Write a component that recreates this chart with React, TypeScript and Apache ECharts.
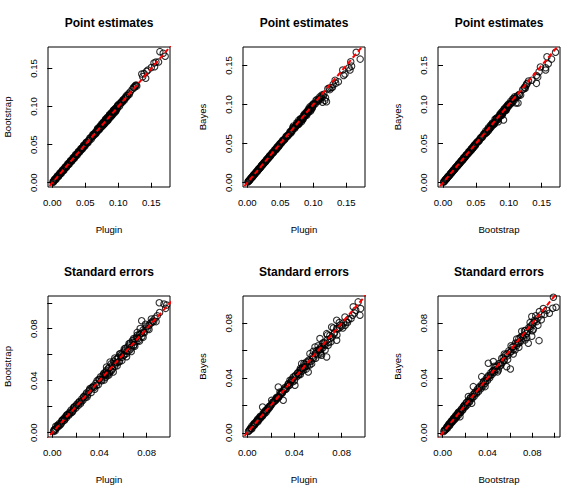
import React, { useEffect, useRef } from "react";
import * as echarts from "echarts";

// ---- data: [x, y] pairs ----
const pointPluginBoot: number[][] = [
  [0.001,0.0012],[0.002,0.0018],[0.003,0.0032],[0.004,0.0038],[0.005,0.0052],[0.006,0.0061],[0.007,0.0068],[0.008,0.0083],[0.009,0.0088],[0.010,0.0103],
  [0.011,0.0109],[0.012,0.0122],[0.013,0.0128],[0.014,0.0143],[0.015,0.0149],[0.016,0.0162],[0.017,0.0168],[0.018,0.0184],[0.019,0.0188],[0.020,0.0204],
  [0.021,0.0207],[0.022,0.0224],[0.023,0.0228],[0.024,0.0243],[0.025,0.0247],[0.026,0.0264],[0.027,0.0268],[0.028,0.0284],[0.029,0.0287],[0.030,0.0304],
  [0.031,0.0306],[0.032,0.0323],[0.033,0.0327],[0.034,0.0345],[0.035,0.0346],[0.036,0.0366],[0.038,0.0377],[0.039,0.0396],[0.040,0.0398],[0.042,0.0425],
  [0.043,0.0426],[0.044,0.0447],[0.045,0.0446],[0.046,0.0466],[0.047,0.0465],[0.048,0.0487],[0.049,0.0486],[0.050,0.0508],
  [0.052,0.0528],[0.053,0.0524],[0.055,0.0558],[0.056,0.0553],[0.058,0.0586],[0.060,0.0608],[0.061,0.0604],[0.062,0.0628],[0.063,0.0622],[0.064,0.0648],
  [0.066,0.0668],[0.067,0.0664],[0.068,0.0693],[0.070,0.0708],[0.071,0.0703],[0.072,0.0732],[0.073,0.0724],[0.074,0.0752],[0.075,0.0745],[0.076,0.0772],
  [0.077,0.0761],[0.078,0.0794],[0.079,0.0782],[0.080,0.0812],[0.081,0.0803],[0.082,0.0832],[0.083,0.0822],[0.084,0.0854],[0.085,0.0842],[0.086,0.0872],
  [0.087,0.0863],[0.088,0.0893],[0.089,0.0882],[0.090,0.0914],[0.091,0.0902],[0.092,0.0933],[0.093,0.0921],[0.094,0.0955],[0.095,0.0942],[0.096,0.0973],
  [0.097,0.0962],[0.098,0.0995],[0.099,0.0981],
  [0.100,0.1015],[0.101,0.1032],[0.102,0.1008],[0.104,0.1052],[0.105,0.1064],[0.106,0.1055],[0.108,0.1092],[0.109,0.1082],[0.111,0.1125],[0.112,0.1118],
  [0.114,0.1142],[0.116,0.1172],[0.118,0.1192],[0.121,0.1225],[0.123,0.1248],[0.125,0.1262],[0.127,0.1281],[0.128,0.1268],[0.1355,0.1426],[0.137,0.1392],
  [0.139,0.1432],[0.1415,0.1370],[0.143,0.1462],[0.145,0.1480],[0.150,0.1512],[0.154,0.1570],[0.155,0.1522],[0.157,0.1583],[0.161,0.1585],[0.163,0.1720],
  [0.168,0.1700],[0.171,0.1660],
  [0.0015,0.0005],[0.0035,0.0045],[0.0055,0.0042],[0.0075,0.0088],[0.0095,0.0082],[0.0115,0.0128],[0.0135,0.0122],[0.0155,0.0168],[0.0175,0.0162],[0.0195,0.0208],
  [0.0215,0.0202],[0.0235,0.0248],[0.0255,0.0243],[0.0275,0.0289],[0.0295,0.0283],[0.0315,0.0329],[0.0335,0.0322],[0.0355,0.0369],[0.0375,0.0362],[0.0395,0.0409],
  [0.0415,0.0402],[0.0435,0.0449],[0.0455,0.0442],[0.0475,0.0491],[0.0495,0.0481],[0.0515,0.0532],[0.054,0.0525],[0.057,0.0587],[0.059,0.0575],[0.0615,0.0632],
  [0.065,0.0638],[0.0685,0.0702],[0.0695,0.0682],[0.0725,0.0745],[0.0755,0.0738],[0.0775,0.0798],[0.0785,0.0768],[0.0805,0.0828],[0.0815,0.0792],[0.0835,0.0858],
  [0.0845,0.0822],[0.0865,0.0888],[0.0875,0.0852],[0.0895,0.0918],[0.0905,0.0885],[0.0925,0.0948],[0.0935,0.0912],[0.0955,0.0975],[0.0965,0.0948],[0.0985,0.1005],
  [0.1035,0.1038],[0.107,0.1085],[0.110,0.1105],[0.113,0.1148],[0.1165,0.1158],[0.124,0.1245],[0.126,0.1275],
  [0.066,0.0645],[0.069,0.0715],[0.072,0.0705],[0.075,0.0775],[0.078,0.0765],[0.081,0.0835],[0.084,0.0818],[0.087,0.0895],[0.090,0.0878],[0.093,0.0955],
  [0.096,0.0935],[0.099,0.1012],
];

const pointPluginBayes: number[][] = [
  [0.001,0.0009],[0.002,0.0021],[0.003,0.0028],[0.004,0.0041],[0.005,0.0048],[0.006,0.0062],[0.007,0.0067],[0.008,0.0081],[0.009,0.0087],[0.010,0.0101],
  [0.011,0.0107],[0.012,0.0121],[0.013,0.0126],[0.014,0.0141],[0.015,0.0146],[0.016,0.0161],[0.017,0.0166],[0.018,0.0182],[0.019,0.0186],[0.020,0.0201],
  [0.021,0.0205],[0.022,0.0222],[0.023,0.0226],[0.024,0.0241],[0.025,0.0244],[0.026,0.0262],[0.027,0.0264],[0.028,0.0282],[0.029,0.0284],[0.030,0.0301],
  [0.031,0.0302],[0.032,0.0323],[0.033,0.0322],[0.034,0.0343],[0.035,0.0342],[0.036,0.0362],[0.038,0.0372],[0.039,0.0393],[0.040,0.0392],[0.042,0.0421],
  [0.043,0.0418],[0.044,0.0443],[0.045,0.0438],[0.046,0.0463],[0.047,0.0458],[0.048,0.0482],[0.049,0.0478],[0.050,0.0502],
  [0.052,0.052],[0.054,0.053],[0.055,0.055],[0.057,0.056],[0.059,0.058],[0.060,0.060],[0.062,0.061],[0.063,0.062],[0.065,0.064],[0.066,0.066],
  [0.068,0.067],[0.069,0.069],[0.070,0.0725],[0.072,0.071],[0.074,0.073],[0.075,0.074],[0.076,0.076],[0.077,0.075],[0.078,0.080],[0.079,0.077],
  [0.080,0.079],[0.081,0.080],[0.082,0.078],[0.083,0.082],[0.084,0.083],[0.085,0.086],[0.086,0.084],[0.087,0.088],[0.088,0.086],[0.089,0.089],
  [0.090,0.088],[0.091,0.091],[0.092,0.090],[0.093,0.093],[0.094,0.092],[0.095,0.097],[0.096,0.095],[0.097,0.094],[0.098,0.099],[0.099,0.097],
  [0.101,0.100],[0.103,0.101],[0.104,0.105],[0.106,0.104],[0.108,0.106],[0.109,0.107],[0.110,0.110],[0.111,0.108],[0.113,0.112],[0.115,0.111],
  [0.116,0.113],[0.1175,0.105],[0.114,0.103],[0.120,0.1035],[0.124,0.121],[0.125,0.119],[0.127,0.1215],[0.129,0.122],[0.133,0.131],[0.134,0.127],
  [0.138,0.129],[0.1445,0.144],[0.146,0.137],[0.148,0.139],[0.154,0.147],[0.1556,0.1441],[0.1567,0.1547],[0.158,0.149],[0.165,0.1667],[0.171,0.158],
  [0.0015,0.0016],[0.0035,0.0032],[0.0055,0.0058],[0.0075,0.0071],[0.0095,0.0098],[0.0115,0.0111],[0.0135,0.0138],[0.0155,0.0151],[0.0175,0.0178],[0.0195,0.0190],
  [0.0215,0.0219],[0.0235,0.0230],[0.0255,0.0259],[0.0275,0.0269],[0.0295,0.0299],[0.0315,0.0308],[0.0335,0.0339],[0.0355,0.0348],[0.0375,0.0379],[0.0395,0.0386],
  [0.0415,0.0418],[0.0435,0.0426],[0.0455,0.0458],[0.0475,0.0465],[0.0495,0.0498],[0.0515,0.0505],[0.0535,0.0538],[0.0565,0.0552],[0.0585,0.0588],[0.0615,0.0598],
  [0.0645,0.0648],[0.0675,0.0655],[0.0705,0.0698],[0.0735,0.0722],[0.0765,0.0742],[0.0785,0.0768],[0.0805,0.0815],[0.0825,0.0808],[0.0845,0.0818],[0.0865,0.0858],
  [0.0885,0.0872],[0.0905,0.0915],[0.0925,0.0898],[0.0945,0.0938],[0.0965,0.0962],[0.0985,0.0955],[0.1005,0.1012],[0.1055,0.1065],[0.1085,0.1048],[0.112,0.1095],
  [0.1185,0.1085],[0.122,0.120],[0.130,0.1255],
  [0.066,0.0635],[0.069,0.0705],[0.072,0.0695],[0.075,0.0765],[0.078,0.0748],[0.081,0.0818],[0.084,0.0805],[0.087,0.0865],[0.090,0.0862],[0.093,0.0945],
  [0.096,0.0918],[0.099,0.0995],
];

const pointBootBayes: number[][] = [
  [0.001,0.0008],[0.002,0.0020],[0.003,0.0027],[0.004,0.0040],[0.005,0.0047],[0.006,0.0061],[0.007,0.0066],[0.008,0.0080],[0.009,0.0086],[0.010,0.0100],
  [0.011,0.0106],[0.012,0.0120],[0.013,0.0125],[0.014,0.0140],[0.015,0.0145],[0.016,0.0160],[0.017,0.0164],[0.018,0.0181],[0.019,0.0185],[0.020,0.0200],
  [0.021,0.0203],[0.022,0.0221],[0.023,0.0224],[0.024,0.0240],[0.025,0.0242],[0.026,0.0261],[0.027,0.0262],[0.028,0.0281],[0.029,0.0282],[0.030,0.0300],
  [0.031,0.0300],[0.032,0.0322],[0.033,0.0320],[0.034,0.0342],[0.035,0.0340],[0.036,0.0361],[0.038,0.0370],[0.039,0.0392],[0.040,0.0390],[0.042,0.0420],
  [0.043,0.0416],[0.044,0.0442],[0.045,0.0436],[0.046,0.0462],[0.047,0.0456],[0.048,0.0481],[0.049,0.0476],[0.050,0.0501],
  [0.051,0.051],[0.053,0.052],[0.055,0.054],[0.056,0.056],[0.058,0.057],[0.060,0.059],[0.061,0.061],[0.063,0.062],[0.064,0.063],[0.065,0.066],
  [0.067,0.065],[0.068,0.068],[0.069,0.0665],[0.071,0.070],[0.072,0.073],[0.074,0.072],[0.075,0.075],[0.076,0.074],[0.078,0.077],[0.079,0.081],
  [0.080,0.078],[0.081,0.080],[0.082,0.083],[0.084,0.078],[0.085,0.084],[0.086,0.087],[0.087,0.085],[0.088,0.089],[0.089,0.087],[0.090,0.091],
  [0.091,0.089],[0.092,0.0802],[0.093,0.092],[0.094,0.095],[0.095,0.093],[0.096,0.097],[0.097,0.095],[0.098,0.099],[0.099,0.097],
  [0.100,0.101],[0.102,0.100],[0.103,0.104],[0.105,0.103],[0.106,0.107],[0.108,0.105],[0.109,0.110],[0.110,0.108],[0.111,0.102],[0.113,0.111],
  [0.114,0.102],[0.116,0.113],[0.118,0.112],[0.123,0.120],[0.124,0.122],[0.125,0.1207],[0.126,0.124],[0.127,0.126],[0.130,0.130],[0.135,0.131],
  [0.142,0.127],[0.142,0.137],[0.144,0.135],[0.146,0.142],[0.148,0.148],[0.156,0.144],[0.156,0.147],[0.158,0.161],[0.160,0.152],[0.165,0.158],
  [0.171,0.1667],
  [0.0015,0.0012],[0.0035,0.0039],[0.0055,0.0051],[0.0075,0.0079],[0.0095,0.0091],[0.0115,0.0119],[0.0135,0.0131],[0.0155,0.0159],[0.0175,0.0170],[0.0195,0.0199],
  [0.0215,0.0210],[0.0235,0.0239],[0.0255,0.0249],[0.0275,0.0279],[0.0295,0.0288],[0.0315,0.0319],[0.0335,0.0327],[0.0355,0.0358],[0.0375,0.0366],[0.0395,0.0398],
  [0.0415,0.0405],[0.0435,0.0438],[0.0455,0.0444],[0.0475,0.0478],[0.0495,0.0484],[0.0525,0.0528],[0.0545,0.0532],[0.0575,0.0578],[0.0595,0.0582],[0.0625,0.0628],
  [0.0655,0.0642],[0.0705,0.0688],[0.0735,0.0738],[0.0775,0.0752],[0.0805,0.0808],[0.0835,0.0818],[0.0865,0.0852],[0.0885,0.0878],[0.0905,0.0885],[0.0925,0.0928],
  [0.0945,0.0922],[0.0965,0.0955],[0.0985,0.0978],[0.1015,0.1005],[0.1045,0.1022],[0.1075,0.1078],[0.112,0.1095],[0.1155,0.1118],[0.121,0.119],[0.128,0.127],
  [0.066,0.0638],[0.069,0.0702],[0.072,0.0698],[0.075,0.0762],[0.078,0.0752],[0.081,0.0822],[0.084,0.0808],[0.087,0.0872],[0.090,0.0865],[0.093,0.0942],
  [0.096,0.0925],[0.099,0.0992],
];

const sePluginBoot: number[][] = [
  [0.001,0.001],[0.002,0.0025],[0.003,0.003],[0.003,0.005],[0.004,0.004],[0.005,0.006],[0.005,0.0045],[0.006,0.007],[0.007,0.0065],[0.008,0.009],
  [0.008,0.0075],[0.009,0.010],[0.010,0.0095],[0.010,0.011],[0.011,0.012],[0.012,0.0115],[0.012,0.013],[0.013,0.014],[0.014,0.0135],[0.015,0.016],
  [0.015,0.0145],[0.016,0.0175],[0.017,0.016],[0.018,0.019],[0.018,0.0175],[0.019,0.020],[0.020,0.019],[0.021,0.022],[0.022,0.021],[0.023,0.024],
  [0.024,0.0225],[0.025,0.026],[0.026,0.025],[0.027,0.028],[0.028,0.027],[0.029,0.0305],[0.030,0.029],[0.031,0.032],[0.032,0.034],[0.033,0.031],
  [0.034,0.035],[0.035,0.036],[0.036,0.0335],[0.037,0.038],[0.038,0.040],[0.039,0.037],[0.040,0.041],[0.041,0.043],[0.042,0.040],[0.043,0.044],
  [0.044,0.046],[0.045,0.0425],[0.045,0.045],[0.046,0.048],[0.047,0.0455],[0.048,0.050],[0.049,0.0475],[0.049,0.0544],[0.050,0.053],[0.051,0.049],
  [0.0517,0.0467],[0.052,0.055],[0.053,0.051],[0.054,0.0565],[0.055,0.054],[0.056,0.058],[0.057,0.055],[0.058,0.061],[0.059,0.058],[0.060,0.062],
  [0.061,0.060],[0.062,0.065],[0.063,0.061],[0.064,0.066],[0.065,0.063],[0.066,0.069],[0.067,0.066],[0.068,0.071],[0.069,0.067],[0.070,0.072],
  [0.071,0.070],[0.072,0.075],[0.073,0.071],[0.074,0.076],[0.0758,0.0862],[0.076,0.074],[0.077,0.079],[0.078,0.077],[0.080,0.082],[0.081,0.080],
  [0.083,0.084],[0.085,0.086],[0.087,0.088],[0.089,0.090],[0.0907,0.100],[0.0947,0.099],[0.0961,0.0957],[0.097,0.0982],
  [0.0015,0.002],[0.0025,0.0015],[0.0045,0.0055],[0.0065,0.0058],[0.0085,0.0095],[0.0105,0.0098],[0.0125,0.0138],[0.0145,0.0152],[0.0165,0.0158],[0.0185,0.0198],
  [0.0205,0.0212],[0.0225,0.0232],[0.0245,0.0238],[0.0265,0.0275],[0.0285,0.0292],[0.0295,0.0275],[0.0315,0.0328],[0.0335,0.0345],[0.0355,0.0348],[0.0375,0.0365],
  [0.0395,0.0412],[0.0415,0.0405],[0.0435,0.0452],[0.0445,0.0438],[0.0455,0.0468],[0.0465,0.0438],[0.0475,0.0492],[0.0485,0.0462],[0.0505,0.0515],[0.0525,0.0535],
  [0.0535,0.0528],[0.0555,0.0572],[0.0565,0.0545],[0.0585,0.0598],[0.0605,0.0595],[0.0615,0.0635],[0.0635,0.0628],[0.0655,0.0675],[0.0665,0.0645],[0.0685,0.0695],
  [0.0695,0.0678],[0.0715,0.0735],[0.0725,0.0725],[0.0745,0.0755],[0.0755,0.0765],[0.0775,0.0775],[0.0795,0.0805],[0.082,0.0825],[0.0845,0.0848],[0.086,0.0855],
  [0.044,0.0405],[0.046,0.0505],[0.048,0.0445],[0.050,0.0475],[0.053,0.0575],[0.055,0.0515],[0.057,0.0605],[0.059,0.0555],[0.061,0.0645],[0.063,0.0585],
  [0.065,0.0685],[0.067,0.0625],[0.069,0.0725],[0.070,0.0665],[0.072,0.0772],[0.074,0.0705],[0.0745,0.0802],[0.077,0.0735],[0.079,0.0835],[0.082,0.0795],
  [0.084,0.0875],[0.088,0.0855],[0.091,0.0925],
];

const sePluginBayes: number[][] = [
  [0.001,0.001],[0.002,0.002],[0.003,0.0035],[0.004,0.003],[0.004,0.005],[0.005,0.005],[0.006,0.0055],[0.006,0.007],[0.007,0.007],[0.008,0.0085],
  [0.009,0.008],[0.009,0.010],[0.010,0.010],[0.011,0.0105],[0.011,0.012],[0.012,0.012],[0.013,0.0125],[0.013,0.0188],[0.014,0.014],[0.015,0.0155],
  [0.016,0.015],[0.0164,0.0164],[0.017,0.0175],[0.018,0.018],[0.019,0.0185],[0.020,0.020],[0.0207,0.0237],[0.021,0.021],[0.022,0.0225],[0.023,0.023],
  [0.024,0.024],[0.025,0.0245],[0.025,0.026],[0.026,0.026],[0.0263,0.0334],[0.027,0.0265],[0.0277,0.0298],[0.028,0.028],[0.029,0.029],[0.030,0.0295],
  [0.0305,0.0237],[0.031,0.031],[0.032,0.033],[0.033,0.032],[0.034,0.034],[0.035,0.036],[0.036,0.035],[0.0362,0.0383],[0.037,0.037],[0.038,0.039],
  [0.039,0.0407],[0.040,0.038],[0.0404,0.0347],[0.041,0.042],[0.042,0.041],[0.043,0.044],[0.044,0.043],[0.0447,0.0456],[0.045,0.047],[0.046,0.045],
  [0.0461,0.0505],[0.047,0.048],[0.048,0.046],[0.049,0.050],[0.0503,0.0517],[0.051,0.049],[0.0517,0.0444],[0.052,0.053],[0.0531,0.0578],[0.054,0.052],
  [0.0546,0.0505],[0.055,0.056],[0.056,0.054],[0.0574,0.0627],[0.058,0.058],[0.059,0.060],[0.060,0.057],[0.0616,0.0688],[0.061,0.061],[0.062,0.059],
  [0.063,0.0566],[0.063,0.063],[0.064,0.062],[0.065,0.066],[0.066,0.064],[0.0673,0.0554],[0.0673,0.0724],[0.0686,0.0639],[0.068,0.068],[0.069,0.066],
  [0.070,0.071],[0.0715,0.0773],[0.072,0.070],[0.074,0.073],[0.0758,0.0676],[0.0758,0.0761],[0.0758,0.0822],[0.077,0.076],[0.0786,0.0786],[0.080,0.078],
  [0.0828,0.0846],[0.084,0.081],[0.086,0.083],[0.0893,0.0859],[0.0898,0.092],[0.094,0.0956],[0.0955,0.0859],[0.0961,0.0907],
  [0.0015,0.0015],[0.0025,0.0028],[0.0035,0.0032],[0.0055,0.0062],[0.0065,0.0062],[0.0075,0.0078],[0.0085,0.0092],[0.0095,0.0092],[0.0105,0.0112],[0.0125,0.0118],
  [0.0135,0.0142],[0.0145,0.0138],[0.0155,0.0162],[0.0175,0.0168],[0.0185,0.0192],[0.0195,0.0198],[0.0215,0.0222],[0.0235,0.0232],[0.0245,0.0252],[0.0255,0.0255],
  [0.0265,0.0258],[0.0285,0.0292],[0.0295,0.0288],[0.0315,0.0322],[0.0325,0.0318],[0.0345,0.0352],[0.0355,0.0345],[0.0375,0.0382],[0.0385,0.0372],[0.0405,0.0412],
  [0.0425,0.0432],[0.0435,0.0422],[0.0455,0.0462],[0.0465,0.0472],[0.0485,0.0478],[0.0495,0.0485],[0.0525,0.0522],[0.0555,0.0548],[0.0585,0.0575],[0.0605,0.0602],
  [0.0625,0.0612],[0.0655,0.0648],[0.0705,0.0688],[0.0735,0.0722],[0.0785,0.0768],[0.0815,0.0802],
  [0.045,0.0425],[0.048,0.0505],[0.050,0.0465],[0.053,0.0495],[0.056,0.0595],[0.058,0.0545],[0.060,0.0635],[0.062,0.0575],[0.064,0.0655],[0.066,0.0605],
  [0.068,0.0715],[0.071,0.0665],[0.073,0.0765],[0.076,0.0715],[0.078,0.0805],[0.081,0.0765],[0.083,0.0785],[0.085,0.0805],[0.088,0.0835],[0.091,0.0875],
  [0.092,0.0895],
];

const seBootBayes: number[][] = [
  [0.001,0.001],[0.002,0.0022],[0.003,0.0028],[0.004,0.0045],[0.004,0.0032],[0.005,0.0055],[0.006,0.0052],[0.006,0.0068],[0.007,0.0072],[0.008,0.0075],
  [0.008,0.0088],[0.009,0.0094],[0.010,0.0092],[0.010,0.0108],[0.011,0.0112],[0.012,0.0108],[0.012,0.0128],[0.013,0.0134],[0.014,0.0128],[0.014,0.0150],
  [0.0154,0.0117],[0.015,0.0156],[0.016,0.0148],[0.017,0.0176],[0.0184,0.0190],[0.018,0.0168],[0.019,0.0195],[0.020,0.0188],[0.021,0.0218],[0.022,0.0205],
  [0.0229,0.0264],[0.023,0.0236],[0.024,0.0225],[0.025,0.0258],[0.0259,0.0215],[0.026,0.0248],[0.027,0.0278],[0.0273,0.0337],[0.028,0.0265],[0.029,0.0298],
  [0.030,0.0285],[0.031,0.0318],[0.032,0.0302],[0.033,0.0338],[0.034,0.0322],[0.0348,0.0410],[0.035,0.0355],[0.036,0.0342],[0.037,0.0378],[0.0378,0.0337],
  [0.038,0.0362],[0.039,0.0398],[0.040,0.0382],[0.0407,0.0508],[0.041,0.0418],[0.042,0.0402],[0.043,0.0438],[0.044,0.0425],[0.045,0.0455],[0.0452,0.0520],
  [0.046,0.0442],[0.047,0.0478],[0.048,0.0462],[0.0497,0.0459],[0.050,0.0505],[0.051,0.0488],[0.0527,0.0544],[0.053,0.0512],[0.054,0.0548],[0.055,0.0532],
  [0.056,0.0568],[0.0571,0.0483],[0.058,0.0562],[0.059,0.0598],[0.0604,0.0466],[0.061,0.0595],[0.062,0.0625],[0.063,0.0608],[0.0646,0.0605],[0.065,0.0655],
  [0.066,0.0638],[0.0676,0.0654],[0.068,0.0688],[0.069,0.0662],[0.0705,0.0742],[0.071,0.0705],[0.072,0.0692],[0.0735,0.0678],[0.074,0.0748],[0.075,0.0725],
  [0.0764,0.0654],[0.077,0.0768],[0.078,0.0758],[0.0795,0.0705],[0.0795,0.0849],[0.080,0.0792],[0.081,0.0757],[0.082,0.0822],[0.0839,0.0812],[0.085,0.0838],
  [0.086,0.0673],[0.0863,0.0885],[0.088,0.0862],[0.0898,0.0907],[0.0952,0.0873],[0.0982,0.0910],[0.0988,0.0990],[0.1012,0.0917],
  [0.0015,0.0018],[0.0025,0.0022],[0.0035,0.0038],[0.0045,0.0042],[0.0055,0.0062],[0.0065,0.0058],[0.0075,0.0082],[0.0085,0.0078],[0.0095,0.0102],[0.0105,0.0098],
  [0.0115,0.0122],[0.0125,0.0118],[0.0135,0.0142],[0.0155,0.0148],[0.0165,0.0168],[0.0175,0.0165],[0.0195,0.0202],[0.0205,0.0195],[0.0215,0.0222],[0.0235,0.0228],
  [0.0245,0.0252],[0.0265,0.0262],[0.0285,0.0288],[0.0305,0.0295],[0.0325,0.0328],[0.0345,0.0335],[0.0365,0.0372],[0.0385,0.0378],[0.0405,0.0408],[0.0425,0.0418],
  [0.0445,0.0448],[0.0465,0.0458],[0.0485,0.0488],[0.0515,0.0508],[0.0545,0.0528],[0.0575,0.0578],[0.0605,0.0588],[0.0635,0.0632],[0.0665,0.0655],[0.0695,0.0698],
  [0.0725,0.0712],[0.0755,0.0742],[0.0785,0.0778],[0.0815,0.0808],
  [0.046,0.0485],[0.049,0.0445],[0.052,0.0495],[0.055,0.0575],[0.058,0.0535],[0.061,0.0635],[0.063,0.0575],[0.066,0.0685],[0.068,0.0625],[0.070,0.0675],
  [0.073,0.0745],[0.075,0.0695],[0.078,0.0805],[0.080,0.0745],[0.083,0.0855],[0.085,0.0785],[0.088,0.0825],[0.091,0.0865],[0.093,0.0895],
];

const panelTitles = ["Point estimates", "Point estimates", "Point estimates", "Standard errors", "Standard errors", "Standard errors"];
const xNames = ["Plugin", "Plugin", "Bootstrap", "Plugin", "Plugin", "Bootstrap"];
const yNames = ["Bootstrap", "Bayes", "Bayes", "Bootstrap", "Bayes", "Bayes"];
const pointTicks = [0, 0.05, 0.1, 0.15];
const pointLabels = [0, 0.05, 0.1, 0.15];
const seTicks5 = [0, 0.02, 0.04, 0.06, 0.08];
const seTicks6 = [0, 0.02, 0.04, 0.06, 0.08, 0.1];
const seLabels = [0, 0.04, 0.08];

const panelData = [pointPluginBoot, pointPluginBayes, pointBootBayes, sePluginBoot, sePluginBayes, seBootBayes];

// layout: grid boxes and axis extents
const layout = [
  { left: 48, top: 47, h: 140, x: [-0.0065, 0.1783], y: [-0.0056, 0.1781], xt: pointTicks, yt: pointTicks, xl: pointLabels, yl: pointLabels },
  { left: 243, top: 47, h: 140, x: [-0.0065, 0.1783], y: [-0.0055, 0.1735], xt: pointTicks, yt: pointTicks, xl: pointLabels, yl: pointLabels },
  { left: 438, top: 47, h: 140, x: [-0.0076, 0.1778], y: [-0.0055, 0.1735], xt: pointTicks, yt: pointTicks, xl: pointLabels, yl: pointLabels },
  { left: 48, top: 296, h: 141, x: [-0.0036, 0.0998], y: [-0.0033, 0.1052], xt: seTicks5, yt: seTicks6, xl: seLabels, yl: seLabels },
  { left: 243, top: 296, h: 141, x: [-0.0036, 0.0998], y: [-0.0031, 0.0999], xt: seTicks5, yt: seTicks5, xl: seLabels, yl: seLabels },
  { left: 438, top: 296, h: 141, x: [-0.0042, 0.1047], y: [-0.0031, 0.0999], xt: seTicks6, yt: seTicks5, xl: seLabels, yl: seLabels },
];
const W = 122;
const FONT = "'Liberation Sans', Arial, Helvetica, sans-serif";

export default function App() {
  const ref = useRef<HTMLDivElement>(null);
  useEffect(() => {
    document.body.style.margin = "0";
    if (!ref.current) return;
    const chart = echarts.init(ref.current, undefined, { renderer: "svg" });
    const fmt = (v: number) => v.toFixed(2);
    const grid = layout.map((p) => ({
      left: p.left, top: p.top, width: W, height: p.h,
      show: true, borderColor: "#000", borderWidth: 1, backgroundColor: "transparent",
      containLabel: false,
    }));
    const axisCommon = (i: number) => ({
      type: "value" as const,
      gridIndex: i,
      axisLine: { show: false },
      splitLine: { show: false },
    });
    const xAxis = layout.map((p, i) => ({
      ...axisCommon(i),
      min: p.x[0], max: p.x[1],
      axisTick: { show: true, length: 5, inside: false, lineStyle: { color: "#000", width: 1 }, customValues: p.xt },
      axisLabel: { customValues: p.xl, formatter: fmt, margin: 10, fontSize: 9.6, color: "#000", fontFamily: FONT },
    }));
    const yAxis = layout.map((p, i) => ({
      ...axisCommon(i),
      min: p.y[0], max: p.y[1],
      axisTick: { show: true, length: 5, inside: false, lineStyle: { color: "#000", width: 1 }, customValues: p.yt },
      axisLabel: { customValues: p.yl, formatter: fmt, margin: 10, rotate: 90, fontSize: 9.6, color: "#000", fontFamily: FONT },
    }));
    const series: any[] = [];
    panelData.forEach((d, i) => {
      series.push({
        type: "scatter", xAxisIndex: i, yAxisIndex: i, data: d,
        symbol: "circle", symbolSize: 6.4, silent: true, z: 2,
        itemStyle: { color: "rgba(0,0,0,0)", borderColor: "#000", borderWidth: 1.1 },
      });
      series.push({
        type: "line", xAxisIndex: i, yAxisIndex: i, data: [[-0.02, -0.02], [0.2, 0.2]],
        symbol: "none", silent: true, clip: true, z: 3,
        lineStyle: { color: "#ff0000", width: 2, type: [5, 3] },
      });
    });
    const graphic: any[] = [];
    layout.forEach((p, i) => {
      const cx = p.left + W / 2;
      const cy = p.top + p.h / 2;
      graphic.push({
        type: "text", x: cx, y: p.top - 23.7,
        style: { text: panelTitles[i], fill: "#000", font: `bold 12px ${FONT}`, textAlign: "center", textVerticalAlign: "middle" },
      });
      graphic.push({
        type: "text", x: cx, y: p.top + p.h + 42,
        style: { text: xNames[i], fill: "#000", font: `9.6px ${FONT}`, textAlign: "center", textVerticalAlign: "middle" },
      });
      graphic.push({
        type: "text", x: p.left - 40.3, y: cy, rotation: Math.PI / 2,
        style: { text: yNames[i], fill: "#000", font: `9.6px ${FONT}`, textAlign: "center", textVerticalAlign: "middle" },
      });
    });
    chart.setOption({
      animation: false,
      backgroundColor: "#fff",
      grid, xAxis, yAxis, series, graphic,
    });
    return () => chart.dispose();
  }, []);
  return <div ref={ref} style={{ width: 585, height: 498 }} />;
}
